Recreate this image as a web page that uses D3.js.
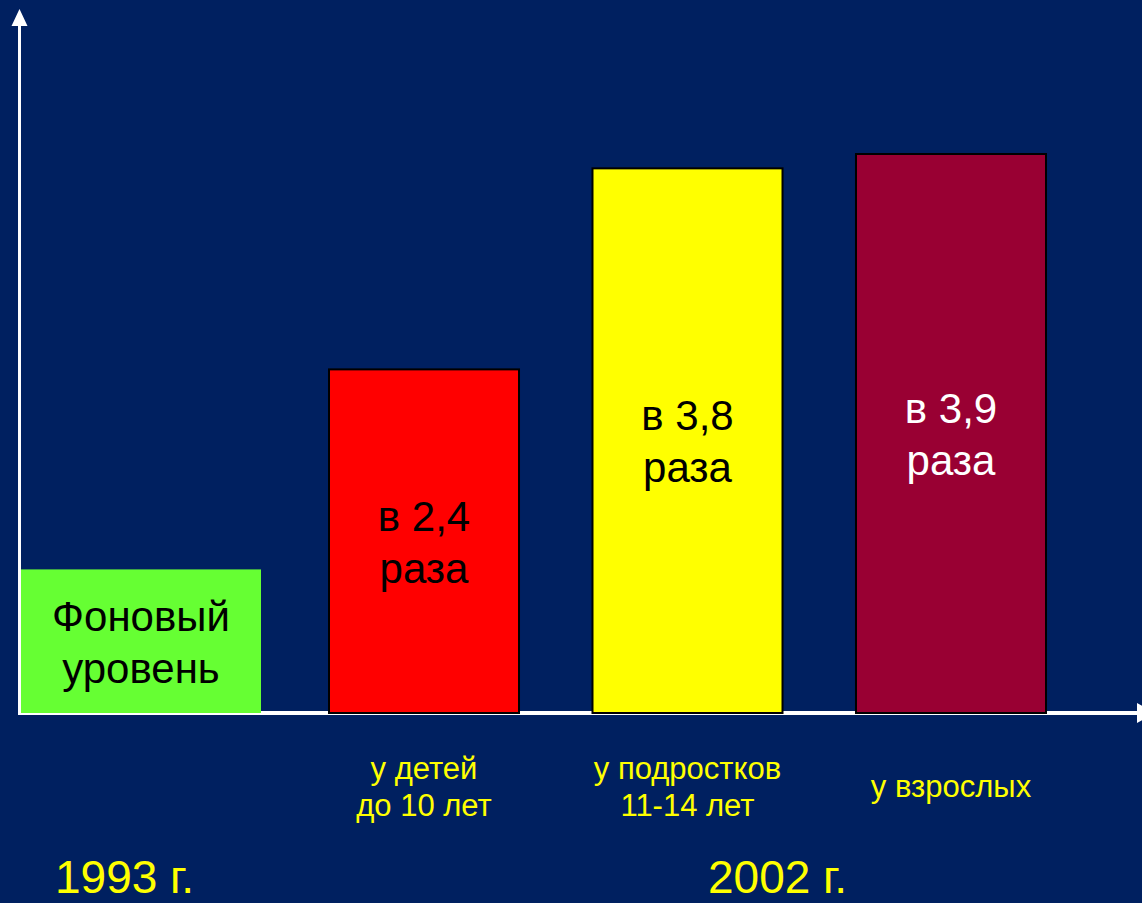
<!DOCTYPE html>
<html>
<head>
<meta charset="utf-8">
<script src="https://cdn.jsdelivr.net/npm/d3@7"></script>
<style>
  html, body { margin: 0; padding: 0; background: #002060; }
  svg { display: block; }
  text { font-family: "Liberation Sans", Arial, sans-serif; }
</style>
</head>
<body>
<svg id="chart" width="1142" height="903"></svg>
<script>
// Fold-increase of the indicator, 2002 vs the 1993 background level
const years = ["1993 г.", "2002 г."];
const baseLabel = ["Фоновый", "уровень"];
const baseValue = 1;
const groups = ["у детей до 10 лет", "у подростков 11-14 лет", "у взрослых"];
const groupLines = [["у детей", "до 10 лет"], ["у подростков", "11-14 лет"], ["у взрослых"]];
const ratios = [2.4, 3.8, 3.9];

const W = 1142, H = 903;
const axisY = 713, axisX = 19.5;
const barFill = ["#ff0000", "#ffff00", "#990033"];
const labelFill = ["#000000", "#000000", "#ffffff"];
const fmt = v => d3.format(".1f")(v).replace(".", ",");

const svg = d3.select("#chart");
svg.append("rect").attr("width", W).attr("height", H).attr("fill", "#002060");

const y = d3.scaleLinear().domain([0, 3.9]).range([axisY, 153]);
const xBase = d3.scaleBand().domain([baseLabel.join(" ")]).range([21, 261]);
const x = d3.scaleBand().domain(groups).range([328, 1047]).paddingInner(0.2713).paddingOuter(0);

// axes with arrow heads
const ax = svg.append("g").attr("fill", "#ffffff").attr("stroke", "#ffffff");
ax.append("line").attr("x1", axisX).attr("x2", axisX).attr("y1", axisY + 2).attr("y2", 22).attr("stroke-width", 3);
ax.append("path").attr("stroke", "none").attr("d", d3.line()([[axisX, 9], [axisX - 8, 26], [axisX + 8, 26]]));
ax.append("line").attr("x1", 18).attr("x2", 1140).attr("y1", axisY).attr("y2", axisY).attr("stroke-width", 4);
ax.append("path").attr("stroke", "none").attr("d", d3.line()([[1155, axisY], [1137, axisY - 10], [1137, axisY + 10]]));

// background level box
const bx = xBase(baseLabel.join(" "));
const bTop = y(baseValue);
svg.append("rect")
  .attr("x", bx).attr("y", bTop)
  .attr("width", xBase.bandwidth()).attr("height", axisY - bTop)
  .attr("fill", "#66ff33");
const bMid = (bTop + axisY) / 2;
svg.append("text")
  .attr("x", bx + xBase.bandwidth() / 2).attr("y", bMid - 10)
  .attr("text-anchor", "middle").attr("font-size", 42).attr("fill", "#000")
  .selectAll("tspan").data(baseLabel).join("tspan")
  .attr("x", bx + xBase.bandwidth() / 2)
  .attr("dy", (d, i) => i === 0 ? 0 : 52)
  .text(d => d);

// 2002 bars
const bars = svg.append("g");
bars.selectAll("rect").data(ratios).join("rect")
  .attr("x", (d, i) => x(groups[i]) + 1)
  .attr("y", d => y(d) + 1)
  .attr("width", x.bandwidth() - 2)
  .attr("height", d => axisY - y(d) - 1)
  .attr("fill", (d, i) => barFill[i])
  .attr("stroke", "#000").attr("stroke-width", 2);

// ratio labels inside bars
bars.selectAll("text.ratio").data(ratios).join("text")
  .attr("class", "ratio")
  .attr("text-anchor", "middle").attr("font-size", 42)
  .attr("fill", (d, i) => labelFill[i])
  .attr("y", d => (y(d) + axisY) / 2 - 10)
  .each(function (d, i) {
    const cx = x(groups[i]) + x.bandwidth() / 2;
    d3.select(this).selectAll("tspan").data(["в " + fmt(d), "раза"]).join("tspan")
      .attr("x", cx).attr("dy", (t, j) => j === 0 ? 0 : 52).text(t => t);
  });

// category labels below the axis
svg.append("g").selectAll("text").data(groupLines).join("text")
  .attr("text-anchor", "middle").attr("font-size", 31).attr("fill", "#ffff00")
  .attr("y", (d) => d.length === 1 ? 797 : 779)
  .each(function (lines, i) {
    const cx = x(groups[i]) + x.bandwidth() / 2;
    d3.select(this).selectAll("tspan").data(lines).join("tspan")
      .attr("x", cx).attr("dy", (t, j) => j === 0 ? 0 : 37).text(t => t);
  });

// year captions
svg.append("text").attr("x", 55).attr("y", 893)
  .attr("font-size", 46).attr("fill", "#ffff00").text(years[0]);
svg.append("text").attr("x", 708).attr("y", 893)
  .attr("font-size", 46).attr("fill", "#ffff00").text(years[1]);
</script>
</body>
</html>
